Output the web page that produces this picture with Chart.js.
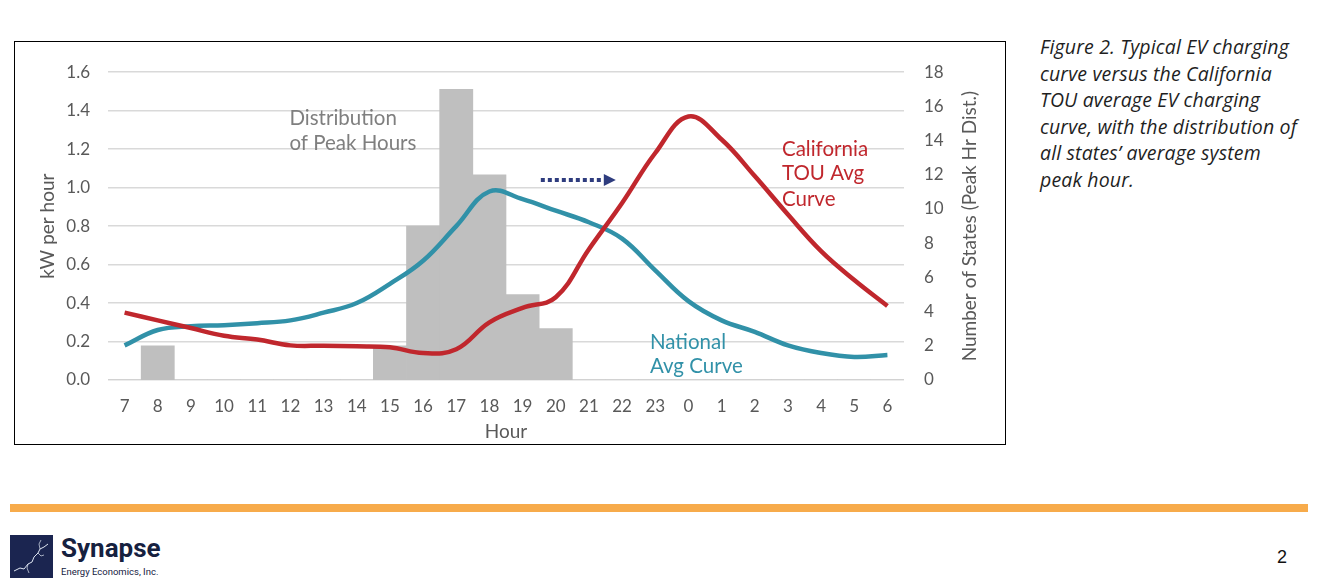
<!DOCTYPE html>
<html>
<head>
<meta charset="utf-8">
<script src="https://cdn.jsdelivr.net/npm/chart.js@4/dist/chart.umd.min.js"></script>
<style>
  body { margin: 0; width: 1327px; height: 586px; background: #fff; position: relative; overflow: hidden; font-family: Lato, sans-serif; }
  #box { position: absolute; left: 14px; top: 41px; width: 990px; height: 402px; border: 1px solid #000; }
  #caption { position: absolute; left: 1040px; top: 34px; width: 285px; font: italic 19.5px/26.6px "Open Sans", sans-serif; letter-spacing: 0.15px; color: #1f1f1f; white-space: nowrap; }
  #rule { position: absolute; left: 10px; top: 504px; width: 1298px; height: 8px; background: #f7ab4b; }
  #logo { position: absolute; left: 10px; top: 535px; width: 43px; height: 43px; background: #1b2550; }
  #brand { position: absolute; left: 61px; top: 533px; font: bold 26px Roboto, sans-serif; color: #16213f; }
  #brandSub { position: absolute; left: 61px; top: 566px; font: 9.5px Roboto, sans-serif; color: #16213f; }
  #page { position: absolute; left: 1277px; top: 547px; font: 18px "Liberation Sans", sans-serif; color: #111; }
</style>
</head>
<body>
<div id="box"><canvas id="myChart"></canvas></div>
<div id="caption">Figure 2. Typical EV charging<br>curve versus the California<br>TOU average EV charging<br>curve, with the distribution of<br>all states’ average system<br>peak hour.</div>
<div id="rule"></div>
<div id="logo">
  <svg width="43" height="43" viewBox="0 0 43 43">
    <polyline points="4,36 10,33 14,34 18,29 22,27 24,22 28,18 30,14 34,12 38,9" fill="none" stroke="#dfe6f2" stroke-width="1"/>
    <polyline points="28,18 31,21 34,20" fill="none" stroke="#dfe6f2" stroke-width="0.7"/>
    <polyline points="30,14 29,9 31,5" fill="none" stroke="#dfe6f2" stroke-width="0.7"/>
    <polyline points="18,29 17,33 19,38" fill="none" stroke="#dfe6f2" stroke-width="0.7"/>
  </svg>
</div>
<div id="brand">Synapse</div>
<div id="brandSub">Energy Economics, Inc.</div>
<div id="page">2</div>
<script>
const hours = ['7','8','9','10','11','12','13','14','15','16','17','18','19','20','21','22','23','0','1','2','3','4','5','6'];
const peakStates = [0,2,0,0,0,0,0,0,2,9,17,12,5,3,0,0,0,0,0,0,0,0,0,0];
const nationalKw = [0.18,0.26,0.28,0.285,0.295,0.31,0.35,0.40,0.50,0.62,0.80,0.98,0.94,0.88,0.82,0.735,0.57,0.41,0.31,0.25,0.18,0.14,0.12,0.13];
const californiaKw = [0.35,0.31,0.27,0.23,0.21,0.18,0.178,0.175,0.17,0.14,0.16,0.30,0.375,0.43,0.68,0.92,1.18,1.37,1.25,1.06,0.86,0.67,0.52,0.385];

const tickColor = '#595959';
const gridColor = '#d9d9d9';

// text labels, dotted arrow and the right axis title (read bottom to top)
const notes = {
  id: 'notes',
  afterDatasetsDraw(chart) {
    const {ctx, scales: {x, y, y1}} = chart;
    ctx.save();
    ctx.textBaseline = 'middle';
    ctx.textAlign = 'left';
    ctx.font = '20.5px Lato, sans-serif';
    ctx.fillStyle = '#7f7f7f';
    ctx.fillText('Distribution', x.getPixelForValue(4.97), y.getPixelForValue(1.36));
    ctx.fillText('of Peak Hours', x.getPixelForValue(4.97), y.getPixelForValue(1.23));
    ctx.fillStyle = '#c0272d';
    ctx.fillText('California', x.getPixelForValue(19.82), y.getPixelForValue(1.2));
    ctx.fillText('TOU Avg', x.getPixelForValue(19.82), y.getPixelForValue(1.072));
    ctx.fillText('Curve', x.getPixelForValue(19.82), y.getPixelForValue(0.938));
    ctx.fillStyle = '#3191a8';
    ctx.fillText('National', x.getPixelForValue(15.84), y.getPixelForValue(0.196));
    ctx.fillText('Avg Curve', x.getPixelForValue(15.84), y.getPixelForValue(0.072));
    // arrow
    const ay = y.getPixelForValue(1.04);
    const ax0 = x.getPixelForValue(12.55);
    const ax1 = x.getPixelForValue(14.45);
    ctx.strokeStyle = '#2e3c7e';
    ctx.fillStyle = '#2e3c7e';
    ctx.lineWidth = 4;
    ctx.setLineDash([4, 3]);
    ctx.beginPath();
    ctx.moveTo(ax0, ay);
    ctx.lineTo(ax1, ay);
    ctx.stroke();
    ctx.setLineDash([]);
    ctx.beginPath();
    ctx.moveTo(ax1, ay - 6);
    ctx.lineTo(ax1 + 12, ay);
    ctx.lineTo(ax1, ay + 6);
    ctx.closePath();
    ctx.fill();
    // right axis title
    ctx.translate(y1.right - 35, (y1.top + y1.bottom) / 2);
    ctx.rotate(-Math.PI / 2);
    ctx.textAlign = 'center';
    ctx.font = '19px Lato, sans-serif';
    ctx.fillStyle = tickColor;
    ctx.fillText('Number of States (Peak Hr Dist.)', 0, 0);
    ctx.restore();
  }
};

const ctx = document.getElementById('myChart').getContext('2d');
const chart = new Chart(ctx, {
  type: 'bar',
  data: {
    labels: hours,
    datasets: [{
      type: 'line',
      label: 'California TOU Avg Curve',
      data: californiaKw,
      yAxisID: 'y',
      borderColor: '#c0272d',
      borderWidth: 4.5,
      pointRadius: 0,
      tension: 0.4,
      order: 1
    }, {
      type: 'line',
      label: 'National Avg Curve',
      data: nationalKw,
      yAxisID: 'y',
      borderColor: '#3191a8',
      borderWidth: 4.5,
      pointRadius: 0,
      tension: 0.4,
      order: 2
    }, {
      type: 'bar',
      label: 'Distribution of Peak Hours',
      data: peakStates,
      yAxisID: 'y1',
      backgroundColor: '#bfbfbf',
      barPercentage: 1,
      categoryPercentage: 1,
      order: 3
    }]
  },
  options: {
    responsive: true,
    maintainAspectRatio: false,
    animation: false,
    events: [],
    layout: { padding: { top: 26, left: 0, right: 0, bottom: 0 } },
    plugins: { legend: { display: false }, tooltip: { enabled: false } },
    scales: {
      x: {
        grid: { display: false, drawTicks: false },
        border: { display: false },
        ticks: { color: tickColor, font: { family: 'Lato', size: 17 }, padding: 16, maxRotation: 0, autoSkip: false },
        title: { display: true, text: 'Hour', color: tickColor, font: { family: 'Lato', size: 19 }, padding: { bottom: 1 } },
        afterFit(s) { s.height = 64; }
      },
      y: {
        position: 'left',
        min: 0, max: 1.6,
        grid: { color: gridColor, drawTicks: false, lineWidth: 1.5 },
        border: { display: false },
        ticks: { stepSize: 0.2, color: tickColor, font: { family: 'Lato', size: 17 }, padding: 18, callback: v => v.toFixed(1) },
        title: { display: true, text: 'kW per hour', color: tickColor, font: { family: 'Lato', size: 19 }, padding: { top: 21 } },
        afterFit(s) { s.width = 93; }
      },
      y1: {
        position: 'right',
        min: 0, max: 18,
        grid: { display: false, drawTicks: false },
        border: { display: false },
        ticks: { stepSize: 2, color: tickColor, font: { family: 'Lato', size: 17 }, padding: 20 },
        afterFit(s) { s.width = 101; }
      }
    }
  },
  plugins: [notes]
});
</script>
</body>
</html>
